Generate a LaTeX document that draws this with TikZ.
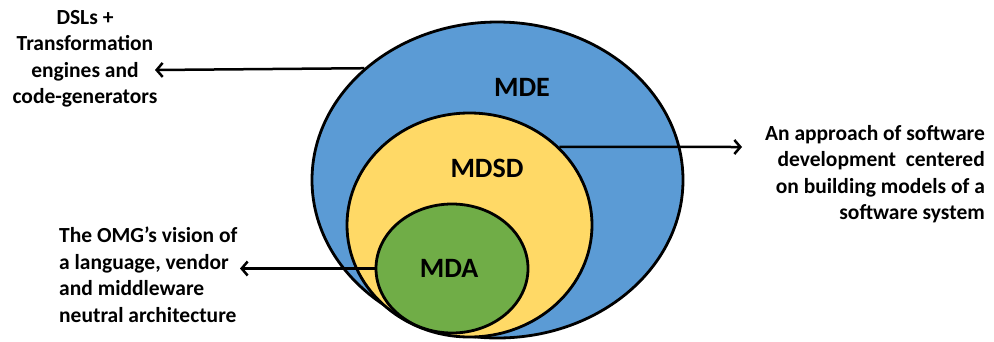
\documentclass[tikz,border=0pt]{standalone}
\usepackage{fontspec}
\setmainfont{Carlito}
\usetikzlibrary{shapes.geometric,arrows.meta}
\definecolor{mdeblue}{HTML}{5B9BD5}
\definecolor{mdsdyellow}{HTML}{FFD966}
\definecolor{mdagreen}{HTML}{70AD47}
\begin{document}
\begin{tikzpicture}[x=1pt,y=-1pt,
  circ/.style={ellipse, draw=black, line width=2.8pt, inner sep=0pt},
  lbl/.style={font=\fontsize{28}{32}\selectfont\bfseries, inner sep=0pt},
  txt/.style={font=\fontsize{21.5}{26.5}\selectfont\bfseries, inner sep=0pt},
  arr/.style={line width=2.5pt, -{Straight Barb[length=6pt,width=14pt]}}]
\useasboundingbox (0,0) rectangle (994,341);
\node[circ, fill=mdeblue, minimum width=371pt, minimum height=316pt] (mde) at (497.5,180) {};
\node[circ, fill=mdsdyellow, minimum width=245pt, minimum height=224pt] (mdsd) at (469.5,225) {};
\node[circ, fill=mdagreen, minimum width=152pt, minimum height=129pt] (mda) at (452,268.5) {};
\node[lbl] (mdel) at (522,87) {MDE};
\node[lbl] (mdsdl) at (487,168) {MDSD};
\node[lbl] (mdal) at (449,268) {MDA};
\node[txt, align=center] (dsl) at (85,59) {DSLs +\\Transformation\\engines and\\code-generators};
\node[txt, align=right, anchor=east] (appr) at (985,174) {An approach of software\\development\ \ centered\\on building models of a\\software system};
\node[txt, align=left, anchor=west] (omg) at (59,275) {The OMG’s vision of\\a language, vendor\\and middleware\\neutral architecture};
\coordinate (t1) at (155,70);
\coordinate (t2) at (742,147);
\coordinate (t3) at (240,268.5);
\draw[arr] (mde.140.45) -- (t1);
\draw[arr] (mdsd.41.6) -- (t2);
\draw[arr] (mda.west) -- (t3);
\end{tikzpicture}
\end{document}
